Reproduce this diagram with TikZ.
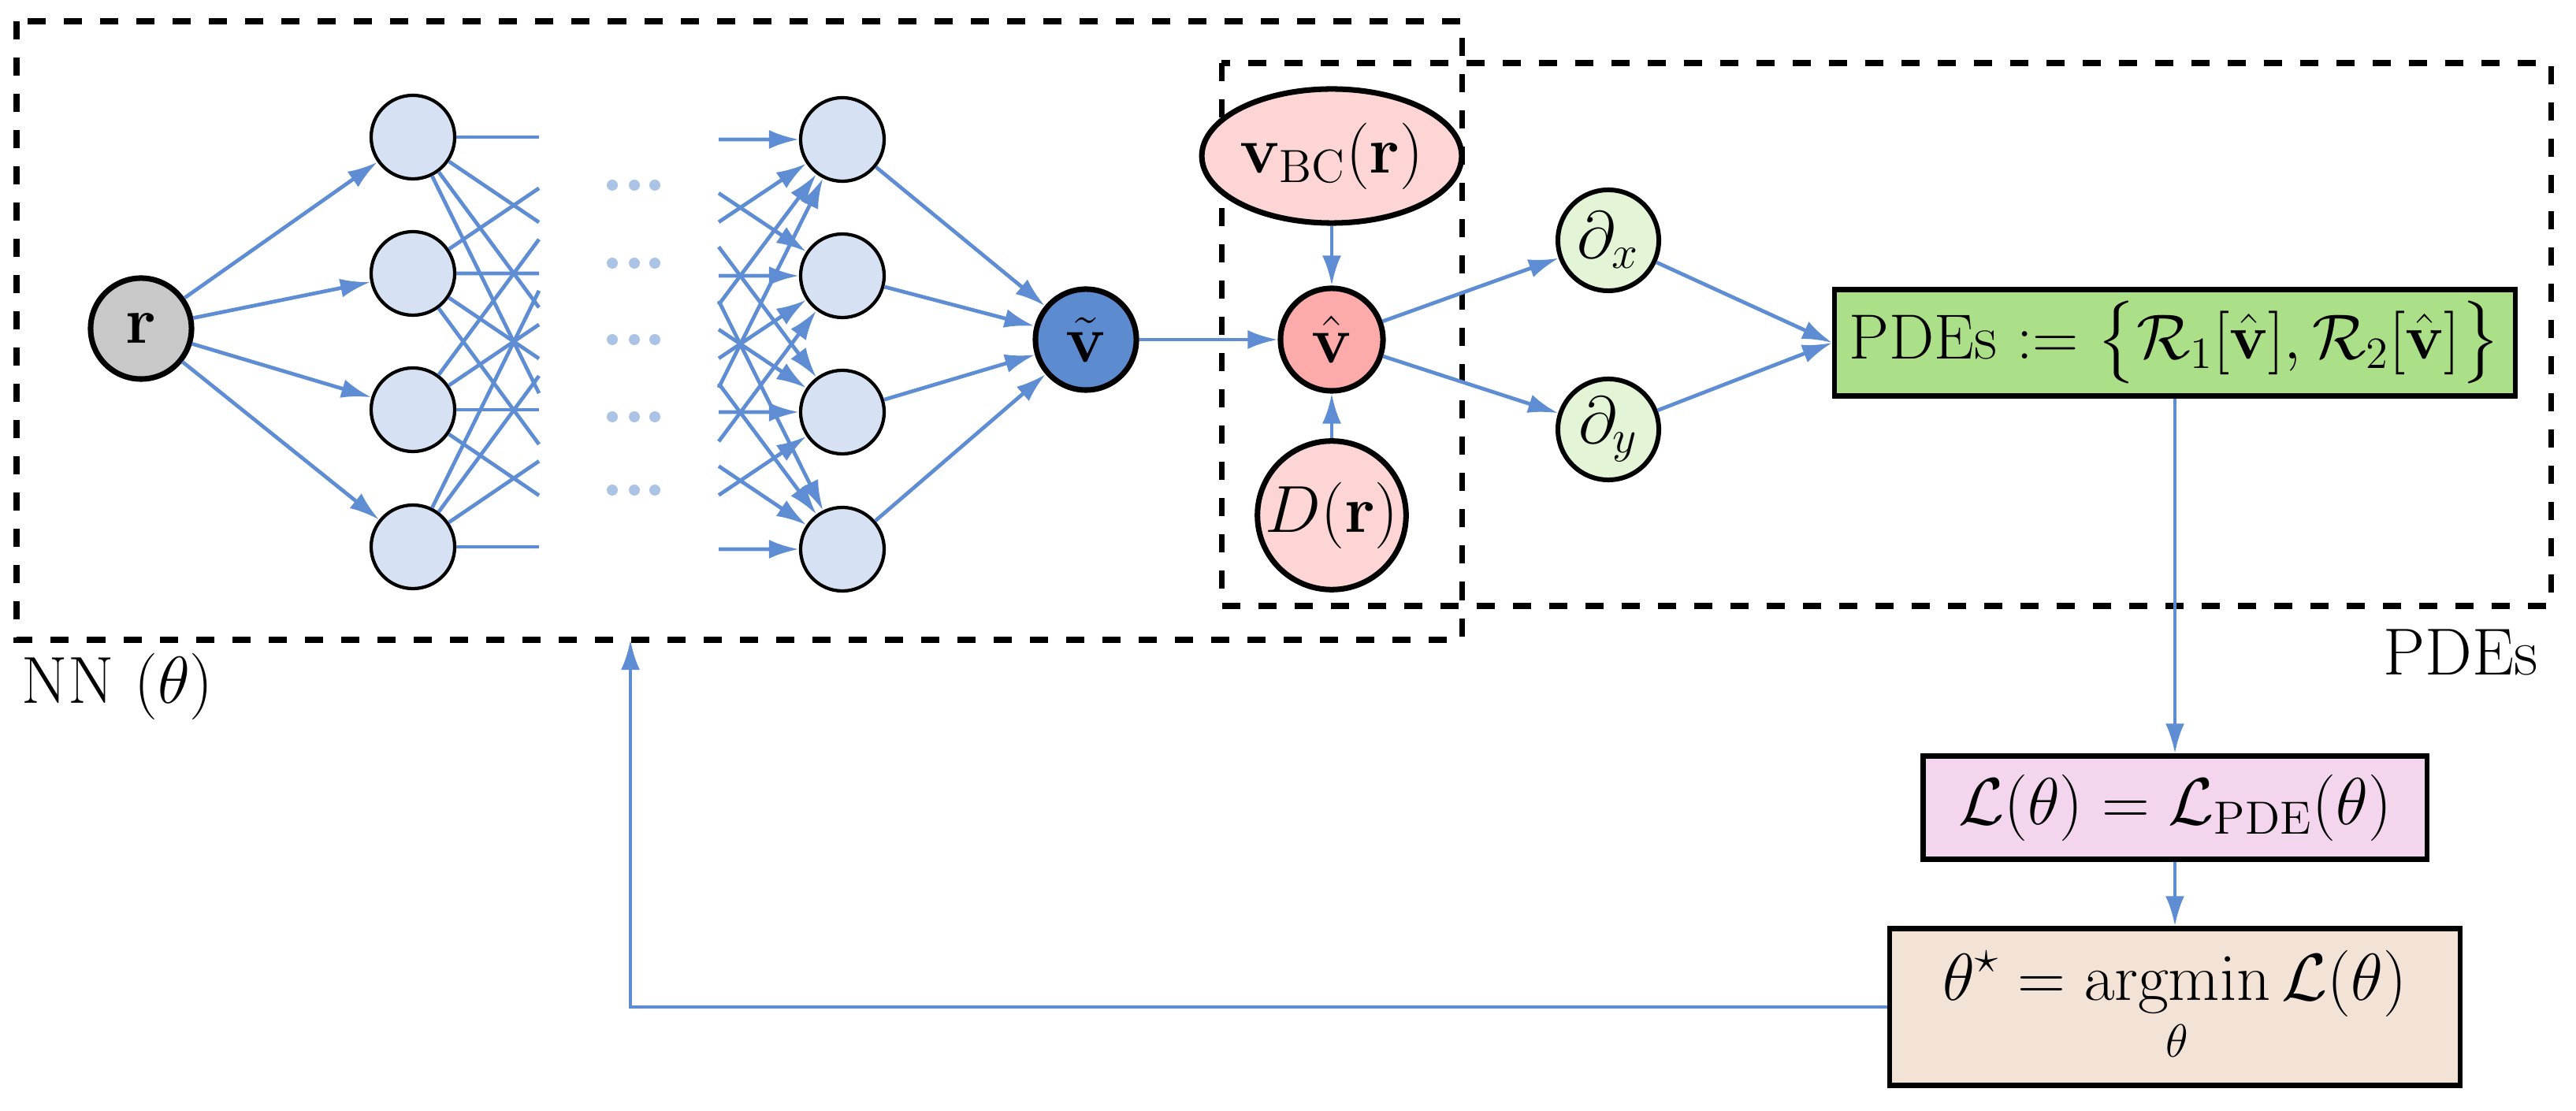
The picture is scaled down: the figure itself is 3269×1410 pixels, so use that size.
\RequirePackage{fix-cm}
\documentclass[tikz,border=0pt]{standalone}
\usepackage{amsmath}
\usetikzlibrary{arrows.meta,shapes.geometric,calc}
\definecolor{wirec}{RGB}{94,141,212}
\definecolor{hidc}{RGB}{214,226,243}
\definecolor{dotc}{RGB}{171,196,230}
\definecolor{inc}{RGB}{200,200,200}
\definecolor{vtc}{RGB}{93,139,208}
\definecolor{vhc}{RGB}{252,170,170}
\definecolor{bcc}{RGB}{253,213,213}
\definecolor{derc}{RGB}{228,245,215}
\definecolor{pdec}{RGB}{171,223,136}
\definecolor{lossc}{RGB}{243,214,237}
\definecolor{optc}{RGB}{242,227,214}
\begin{document}
\begin{tikzpicture}[x=0.01cm,y=-0.01cm,
  every node/.style={font=\fontsize{24}{28}\selectfont},
  neuron/.style={circle,draw,line width=1.2pt,fill=hidc,minimum size=1.06cm,inner sep=0pt},
  bignode/.style={circle,draw,line width=2pt,minimum size=1.28cm,inner sep=0pt},
  box/.style={rectangle,draw,line width=1.8pt,inner sep=0pt},
  wire/.style={draw=wirec,line width=1.35pt},
  arr/.style={wire,-{Latex[length=3.8mm,width=2.4mm]}},
  frame/.style={draw,line width=2pt,dash pattern=on 0.23cm off 0.23cm}]
\useasboundingbox (0,0) rectangle (3269,1410);
\draw[frame](21,27) rectangle (1855,812);
\draw[frame](1550,80) rectangle (3237,769);
\node[below right,inner sep=0pt] (nnlab) at (27,829) {NN $(\theta)$};
\node[below left,inner sep=0pt] (pdelab) at (3221,798) {PDEs};
\node[bignode,fill=inc] (r) at (179,417) {$\mathbf{r}$};
\foreach \i/\y in {1/174,2/347,3/520,4/694}{
  \node[neuron] (a\i) at (524,\y) {};
  \node[neuron] (b\i) at (1069,\y+3) {};
  \coordinate (p\i) at (780,\y);
  \coordinate (q\i) at (810,\y+3);
}
\foreach \y in {235,334,431,529,622}
  \foreach \x in {777,805,831} \fill[dotc] (\x,\y) circle (0.07cm);
\node[bignode,fill=vtc] (vt) at (1378,431) {$\tilde{\mathbf{v}}$};
\node[bignode,fill=vhc,minimum size=1.3cm] (vh) at (1690,431) {$\hat{\mathbf{v}}$};
\node[ellipse,draw,line width=2pt,fill=bcc,minimum width=2.58cm,minimum height=1.7cm,inner sep=0pt] (bc) at (1690,198) {$\mathbf{v}_{\mathrm{BC}}(\mathbf{r})$};
\node[bignode,fill=bcc,minimum size=1.88cm] (dr) at (1690,654) {$D(\mathbf{r})$};
\node[bignode,fill=derc,line width=1.7pt] (dx) at (2041,305) {$\partial_x$};
\node[bignode,fill=derc,line width=1.7pt] (dy) at (2041,545) {$\partial_y$};
\node[box,fill=pdec,minimum width=8.63cm,minimum height=1.35cm,font=\fontsize{23}{27}\selectfont] (pde) at (2760,435) {PDEs $:=\big\{\mathcal{R}_1[\hat{\mathbf{v}}],\mathcal{R}_2[\hat{\mathbf{v}}]\big\}$};
\node[box,fill=lossc,minimum width=6.39cm,minimum height=1.31cm] (loss) at (2760,1025) {$\mathcal{L}(\theta)=\mathcal{L}_{\mathrm{PDE}}(\theta)$};
\node[box,fill=optc,minimum width=7.23cm,minimum height=1.99cm] (opt) at (2760,1278) {$\displaystyle\theta^\star=\operatorname*{argmin}_{\theta}\mathcal{L}(\theta)$};
\coordinate (fb) at (800,812);
% network connections
\foreach \i in {1,...,4} \draw[arr] (r) -- (a\i);
\foreach \i in {1,...,4}{
  \foreach \j in {1,...,4}{
    \draw[wire] (a\i) -- ($(a\i.center)!0.625!(p\j)$);
    \draw[arr] ($(q\j)!0.394!(b\i.center)$) -- (b\i);
  }
}
\foreach \i in {1,...,4} \draw[arr] (b\i) -- (vt);
\draw[arr] (vt) -- (vh);
\draw[arr] (bc) -- (vh);
\draw[arr] (dr) -- (vh);
\draw[arr] (vh) -- (dx);
\draw[arr] (vh) -- (dy);
\draw[arr] (dx) -- (pde.west);
\draw[arr] (dy) -- (pde.west);
% loss and feedback
\draw[arr] (pde) -- (loss);
\draw[arr] (loss) -- (opt);
\draw[arr] (opt) -| (fb);
\end{tikzpicture}
\end{document}
